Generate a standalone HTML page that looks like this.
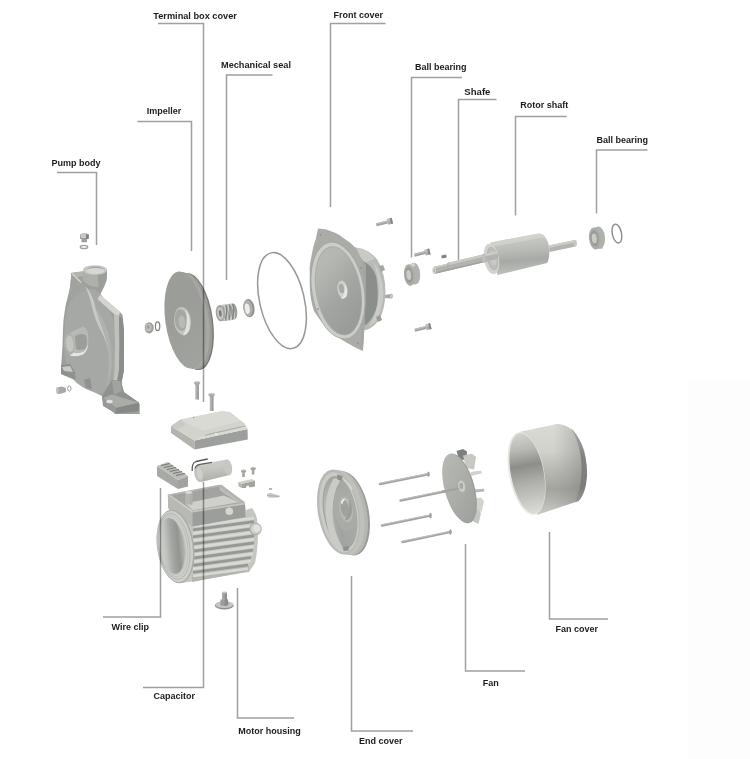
<!DOCTYPE html>
<html><head><meta charset="utf-8">
<style>
html,body{margin:0;padding:0;background:#fff;}
body{width:750px;height:759px;overflow:hidden;position:relative;font-family:"Liberation Sans",sans-serif;}
svg{position:absolute;left:0;top:0;}
.t{font-family:"Liberation Sans",sans-serif;font-weight:bold;font-size:9px;fill:#1c1c1c;}
#lbl{will-change:transform;}
.l{stroke:#a0a0a0;stroke-width:1.5;fill:none;mix-blend-mode:multiply;}
</style></head>
<body>
<svg width="750" height="759" viewBox="0 0 750 759">
<defs>
<linearGradient id="impg" x1="0" y1="0" x2="0.3" y2="1"><stop offset="0" stop-color="#9c9e99"/><stop offset="0.5" stop-color="#9b9d98"/><stop offset="1" stop-color="#a0a29d"/></linearGradient>
<linearGradient id="fcg" x1="0" y1="0" x2="0.4" y2="1"><stop offset="0" stop-color="#babcb7"/><stop offset="0.3" stop-color="#b4b6b1"/><stop offset="0.65" stop-color="#a2a5a1"/><stop offset="1" stop-color="#999c98"/></linearGradient>
<linearGradient id="rotg" x1="0" y1="0" x2="0.12" y2="1"><stop offset="0" stop-color="#d0d2cc"/><stop offset="0.45" stop-color="#b9bbb6"/><stop offset="0.7" stop-color="#a6a9a5"/><stop offset="1" stop-color="#bec0bb"/></linearGradient>
<linearGradient id="capg" x1="0" y1="0" x2="0.15" y2="1"><stop offset="0" stop-color="#cdcec8"/><stop offset="0.4" stop-color="#c7c8c2"/><stop offset="1" stop-color="#aeafa9"/></linearGradient>
<linearGradient id="mfg" x1="0" y1="0" x2="1" y2="0.1"><stop offset="0" stop-color="#d4d6d0"/><stop offset="0.3" stop-color="#c0c2bd"/><stop offset="0.55" stop-color="#a2a5a1"/><stop offset="0.8" stop-color="#929591"/><stop offset="1" stop-color="#aeb0ab"/></linearGradient>
<linearGradient id="ecg" x1="0" y1="0" x2="1" y2="0"><stop offset="0" stop-color="#b9bbb6"/><stop offset="0.4" stop-color="#a0a39f"/><stop offset="1" stop-color="#a9aca7"/></linearGradient>
<linearGradient id="fang" x1="0" y1="0" x2="0.5" y2="1"><stop offset="0" stop-color="#b9bbb6"/><stop offset="0.5" stop-color="#aeb0ab"/><stop offset="1" stop-color="#a0a39f"/></linearGradient>
<linearGradient id="fcvg" x1="0" y1="0" x2="0" y2="1"><stop offset="0" stop-color="#dadbd5"/><stop offset="0.3" stop-color="#d0d1cb"/><stop offset="0.55" stop-color="#b4b5af"/><stop offset="0.72" stop-color="#a3a49e"/><stop offset="0.88" stop-color="#b8b9b3"/><stop offset="1" stop-color="#cbccc6"/></linearGradient>
<linearGradient id="fcedge" x1="0" y1="0" x2="0" y2="1"><stop offset="0" stop-color="#a9aca7"/><stop offset="0.4" stop-color="#7f827e"/><stop offset="0.8" stop-color="#7a7d79"/><stop offset="1" stop-color="#959894"/></linearGradient>
<linearGradient id="fcvg2" x1="0" y1="0" x2="0" y2="1"><stop offset="0" stop-color="#d3d4ce"/><stop offset="0.5" stop-color="#a3a49e"/><stop offset="0.75" stop-color="#b4b5af"/><stop offset="1" stop-color="#c8c9c3"/></linearGradient>
<linearGradient id="fcin" x1="0" y1="0" x2="0" y2="1"><stop offset="0" stop-color="#d2d3cd"/><stop offset="0.2" stop-color="#b8b9b3"/><stop offset="0.4" stop-color="#8d8e89"/><stop offset="0.6" stop-color="#acada8"/><stop offset="1" stop-color="#dcddd7"/></linearGradient>
<linearGradient id="fcshade" x1="0" y1="0" x2="1" y2="0"><stop offset="0" stop-color="#888" stop-opacity="0"/><stop offset="0.5" stop-color="#888" stop-opacity="0"/><stop offset="1" stop-color="#6f706b" stop-opacity="0.45"/></linearGradient>
</defs>
<rect x="688" y="379" width="62" height="380" fill="#fdfdfd"/>
<!-- PARTS -->
<g id="parts">
<!-- pump body -->
<g id="pump">
<!-- plug -->
<path d="M80 234.5 Q84.5 231.5 89 234.5 L88.5 239 L87 239 L87 242.3 L81.5 242.3 L81.5 239 L80 239Z" fill="#9c9f9b"/>
<path d="M80.5 234.5 Q84.5 232 88.5 234.5 L88 238 L81 238Z" fill="#c9cac5"/>
<path d="M86 234 L89 235 L88.5 239 L86 239Z" fill="#7f827e"/>
<ellipse cx="84" cy="247" rx="3.7" ry="1.7" fill="#eeeeec" stroke="#a0a39f" stroke-width="1.3"/>
<!-- silhouette -->
<path d="M83 270 L83 276 L77 272 L71.5 273 L70.5 285 L69 292 L65.5 306 L63.5 320 L63 330 L62.5 345 L61.5 362 L61 366 L61 374 L75.5 380 L85 387 L96 393 L102 396 L103 402 L115 414 L139.7 414 L139.7 404 L124 393 L121 386 L124 370 L124 340 L123.5 325 L122.5 315 L120 312 L100 295 L105 285 L107 276 L107 270 Z" fill="#9c9f9b"/>
<!-- main volute face -->
<path d="M70 300 Q80 285 96 290 Q104 296 110 310 Q118 330 119 355 Q119 380 112 390 Q104 395 96 393 Q80 388 72 378 Q64 365 64 340 Q64 315 70 300Z" fill="#a5a8a4"/>
<!-- volute edge highlight -->
<path d="M85 286 Q92 292 95 306 Q99 320 103 330 Q107 340 108 352 Q106 340 101 331 Q95 320 92 307 Q89 294 85 286Z" fill="#c7c9c4"/>
<path d="M95 306 Q103 318 108 332 Q112 346 112 362 Q111 378 106 388 Q110 370 108 352 Q106 336 101 325 Q97 314 95 306Z" fill="#afb2ad"/>
<!-- left upper -->
<path d="M71.5 273 L83 276 L85 290 Q75 295 68 305 L69.5 292Z" fill="#a0a39f"/>
<!-- right flange -->
<path d="M114 314 L119 316 L119.5 345 L119 370 L116.5 384 L113 387 L114.5 370 L115 345Z" fill="#bfc1bc"/>
<path d="M119 316 L122.5 318 L124 330 L124 370 L121 385 L116.5 386 L119 370 L119.5 345Z" fill="#8b8e8a"/>
<path d="M100 295 L120 312 L119 316 L114 314 L97.5 299Z" fill="#d3d5d0"/>
<!-- outlet pipe -->
<path d="M83 270 L83 280 Q88 287 96 287 Q104 286 106 280 L107 270Z" fill="#aeb0ab"/>
<path d="M97 272 L107 270 L106.5 281 Q104 286 99 287Z" fill="#9b9e9a"/>
<ellipse cx="95" cy="270" rx="12" ry="4.8" fill="#c5c7c2"/>
<ellipse cx="95.3" cy="270.3" rx="9.2" ry="3.7" fill="#d6d8d3"/>
<path d="M86.1 270.3 A9.2 3.7 0 0 1 104.5 270.3 A9.2 2.2 0 0 0 86.1 270.3Z" fill="#a3a6a2"/>
<!-- left bracket -->
<path d="M71.5 273 L83 271 L83 276 L77 277 Q74 276 72 276Z" fill="#b3b5b0"/>
<path d="M72.5 273.8 L81 282.5" stroke="#d3d5d0" stroke-width="1.3"/>
<!-- inlet boss -->
<path d="M69.4 333 L83 326.5 Q88.5 329 88.5 339 Q88 350 83 353.5 L69.4 354.4Z" fill="#b7b9b4"/>
<path d="M75 336 Q81 332.5 86 335.5 Q88 342 85.5 348.5 Q80 351 76 349Z" fill="#9a9d99"/>
<path d="M70 352 Q78 354.5 84 351.5 Q87 349 88.3 343 Q88 351 83 354.5 Q76 357.5 70 355.5Z" fill="#e6e7e3"/>
<ellipse cx="69.4" cy="343.7" rx="5.5" ry="10.8" transform="rotate(-6 69.4 343.7)" fill="#aeb0ab"/>
<ellipse cx="69.8" cy="343.7" rx="3.8" ry="8.2" transform="rotate(-6 69.8 343.7)" fill="#c3c5c0"/>
<!-- feet -->
<path d="M61 365 L70 364 L75 372 L75.5 380 L61 374Z" fill="#8e918d"/>
<path d="M62 367 L70 366 L73 372 L64 371Z" fill="#c8cac5"/>
<path d="M102 396 L112 380 L121 381 L124 392 L139 402.5 L139 411 L116 413.5 L103 406Z" fill="#8f928e"/>
<path d="M103.2 398 L112 394.5 L139 402.8 L116 408Z" fill="#a9aca7"/>
<path d="M116 408 L139 402.8 L139 411 L116 413.5Z" fill="#858884"/>
<path d="M103.2 398 L116 408 L116 413.5 L103.2 405.6Z" fill="#969995"/>
<ellipse cx="109.5" cy="401.5" rx="3.2" ry="1.8" fill="#e2e3df"/>
<path d="M112 381 L120 381 L122 391 L114 395Z" fill="#a0a39f"/>
<path d="M84 380 L90 378 L92 389 L86 388Z" fill="#8f928e"/>
<!-- small bolt -->
<path d="M56.5 387.5 L62 386.5 L66 388 L66 392 L62 393.5 L57 394 Z" fill="#a9aaa5"/>
<ellipse cx="57.3" cy="390.5" rx="1.3" ry="3" fill="#c5c6c1"/>
<ellipse cx="69.3" cy="388.5" rx="1.7" ry="2.6" fill="none" stroke="#9c9d98" stroke-width="1"/>
</g>
</g>
<!-- impeller group -->
<g id="impeller">
<!-- nut & washer -->
<ellipse cx="149.2" cy="327.8" rx="4.5" ry="5.6" fill="#9c9f9b"/>
<ellipse cx="148.6" cy="327.5" rx="3" ry="4" fill="#bfc1bc"/>
<ellipse cx="148.3" cy="327" rx="1.3" ry="2" fill="#9fa09b"/>
<ellipse cx="157.6" cy="326.2" rx="2.2" ry="4.4" fill="none" stroke="#7d807c" stroke-width="1.2"/>
<!-- disc rim (back) -->
<ellipse cx="193" cy="321.5" rx="20" ry="49" transform="rotate(-8 193 321.5)" fill="#787975"/>
<ellipse cx="192" cy="321.2" rx="19.6" ry="48.6" transform="rotate(-8 192 321.2)" fill="#9a9b98"/>
<ellipse cx="189" cy="320.7" rx="19.8" ry="48.8" transform="rotate(-8 189 320.7)" fill="#a7a8a4"/>
<!-- face -->
<ellipse cx="185.3" cy="320" rx="20" ry="49" transform="rotate(-8 185.3 320)" fill="url(#impg)"/>
<!-- hub -->
<ellipse cx="182.5" cy="321" rx="8.5" ry="14" transform="rotate(-6 182.5 321)" fill="#c3c5c0"/>
<ellipse cx="181" cy="320" rx="6.3" ry="11" transform="rotate(-6 181 320)" fill="#a4a7a3"/>
<ellipse cx="182" cy="322" rx="3.3" ry="6.5" transform="rotate(-6 182 322)" fill="#b7bab5"/>
<path d="M186 309 Q191 317 189.5 329 Q187.5 335 183 335.5 Q188.5 326 186 309Z" fill="#e0e2dd"/>
<!-- mechanical seal spring -->
<path d="M220 305.3 L233 303.4 L234.5 319.4 L220 321.3Z" fill="#a3a6a2"/>
<ellipse cx="233.8" cy="311.4" rx="3.4" ry="8" transform="rotate(-6 233.8 311.4)" fill="#9a9d99"/>
<g fill="none">
<ellipse cx="224.5" cy="312.8" rx="2.2" ry="7.9" transform="rotate(-12 224.5 312.8)" stroke="#cfd1cc" stroke-width="1.3"/>
<ellipse cx="228" cy="312.3" rx="2.2" ry="7.9" transform="rotate(-12 228 312.3)" stroke="#cfd1cc" stroke-width="1.3"/>
<ellipse cx="231.5" cy="311.8" rx="2.2" ry="7.9" transform="rotate(-12 231.5 311.8)" stroke="#cfd1cc" stroke-width="1.3"/>
<path d="M225.8 305 Q227.5 312 225.5 320.6 M229.3 304.5 Q231 311.5 229 320.1 M232.8 304 Q234.5 311 232.5 319.6" stroke="#7c7f7b" stroke-width="1.1"/>
</g>
<ellipse cx="220" cy="313.3" rx="4.2" ry="8" transform="rotate(-6 220 313.3)" fill="#9fa29e"/>
<ellipse cx="220.3" cy="313.3" rx="3.1" ry="6.4" transform="rotate(-6 220.3 313.3)" fill="#c6c8c3"/>
<ellipse cx="220.3" cy="313.3" rx="1.4" ry="3.4" transform="rotate(-6 220.3 313.3)" fill="#7a7d79"/>
<!-- seal ring -->
<ellipse cx="249" cy="308.2" rx="5.5" ry="9.2" transform="rotate(-8 249 308.2)" fill="#8c8f8b"/>
<ellipse cx="248" cy="308.2" rx="4.6" ry="8.6" transform="rotate(-8 248 308.2)" fill="#abaea9"/>
<ellipse cx="247.3" cy="308.7" rx="2.4" ry="5.3" transform="rotate(-8 247.3 308.7)" fill="#eeeeeb"/>
<!-- O-ring -->
<ellipse cx="282" cy="300.6" rx="22.3" ry="49" transform="rotate(-13 282 300.6)" fill="none" stroke="#959894" stroke-width="1.5"/>
</g>

<!-- front cover -->
<g id="frontcover">
<!-- back cylinder -->
<path d="M354 247 L363 249 Q372 252.5 377.5 260 Q385.5 274 385.5 292 Q385 310 379 320 Q373 328 366 330 L360 330Z" fill="#b8bab5"/>
<path d="M364 262 Q372 265 376 276 Q379 292 377 306 Q374 318 366 325 L364 325Z" fill="#8b8f8b"/>
<path d="M373 262 Q382 273 383.5 292 Q383 310 375 322 Q372 325 369 326 Q378 312 379 292 Q378.5 274 373 262Z" fill="#c9cbc6"/>
<path d="M357 248 L364 249.8 Q371 253.5 375 259 L366 262 L360 259Z" fill="#c8cac5"/>
<!-- tabs/bolts on rim -->
<path d="M379 266 L383 265 L385 270 L381 272Z" fill="#a4a59f"/>
<path d="M385 295 L391.5 293.8 L393 296 L391.5 298.5 L385 298Z" fill="#a8a9a4"/>
<ellipse cx="391.5" cy="296.2" rx="1.4" ry="2.6" fill="#c6c7c2"/>
<path d="M376 317 L380 315 L382 320 L378 322Z" fill="#9c9d98"/>
<!-- flange -->
<path d="M318 228.4 L325.5 229.3 C333 232 339 234 342.3 237.3 C348 241 352 244 354.5 247 C357.5 251 359.5 255 361 258 L365.7 265 L365.5 300 L364.8 322 L362.9 350.8 L357.3 348.5 C352 346 347 343 342.3 340.1 C337 336.5 332 333 328.3 329.8 C324 325 320 320 317.1 315.8 L313.9 311.1 C311 302 310 294 309.7 285 L309.7 266.7 C310.5 261 311.5 256 312.5 250.8 C313.5 246 314.5 242.5 315.7 239.6 Z" fill="#aaaca7"/>
<!-- flange right side thickness -->
<path d="M361 258 L365.7 265 L365.5 300 L364.8 322 L362.9 350.8 L360.5 349.8 L361.7 322 L362.2 300 L362 265Z" fill="#a5a7a2"/>
<!-- raised ring -->
<ellipse cx="338" cy="290.5" rx="26.4" ry="49.3" transform="rotate(-10 338 290.5)" fill="#a3a5a0"/>
<ellipse cx="338" cy="290.5" rx="25.6" ry="48.5" transform="rotate(-10 338 290.5)" fill="#cbcdc8"/>
<ellipse cx="338.4" cy="290.8" rx="22.7" ry="45" transform="rotate(-10 338.4 290.8)" fill="#a9aca7"/>
<ellipse cx="338.6" cy="291" rx="21.9" ry="44.2" transform="rotate(-10 338.6 291)" fill="url(#fcg)"/>
<!-- hub -->
<ellipse cx="342.5" cy="289.5" rx="5" ry="9" transform="rotate(-10 342.5 289.5)" fill="#cfd0ca"/>
<ellipse cx="341.5" cy="288.5" rx="2.6" ry="4.8" transform="rotate(-10 341.5 288.5)" fill="#a9aaa5"/>
<path d="M344.5 284 Q349 290 346 297 Q343.5 299.5 341 298.5 Q346 294 344.5 284Z" fill="#e6e7e2"/>
<!-- holes -->
<circle cx="320.5" cy="235" r="0.9" fill="#8f908b"/>
<circle cx="361" cy="268" r="0.9" fill="#8f908b"/>
<circle cx="358" cy="343" r="0.9" fill="#8f908b"/>
<circle cx="318" cy="309" r="0.9" fill="#8f908b"/>
</g>
<!-- bolts near front cover -->
<g id="fcbolts">
<path d="M376.7 226.3 L387.9 223.4 L387.1 220.4 L375.9 223.3Z" fill="#a0a39f"/><path d="M376.1 224.1 L387.3 221.2" stroke="#c3c5c0" stroke-width="0.9"/><path d="M388.2 224.7 L393.1 223.5 L391.6 217.8 L386.8 219.1Z" fill="#aaada8"/><path d="M391.1 224.0 L393.1 223.5 L391.6 217.8 L389.7 218.3Z" fill="#858884"/><path d="M387.3 219.0 L389.5 218.4 L390.1 220.7 L387.9 221.3Z" fill="#c6c8c3"/>
<path d="M414.7 256.8 L425.4 254.1 L424.6 251.1 L413.9 253.8Z" fill="#a0a39f"/><path d="M414.1 254.6 L424.8 251.9" stroke="#c3c5c0" stroke-width="0.9"/><path d="M425.7 255.4 L430.6 254.2 L429.1 248.6 L424.3 249.8Z" fill="#aaada8"/><path d="M428.6 254.7 L430.6 254.2 L429.1 248.6 L427.2 249.1Z" fill="#858884"/><path d="M424.8 249.7 L427.0 249.1 L427.6 251.4 L425.4 252.0Z" fill="#c6c8c3"/>
<path d="M415.2 331.8 L426.4 328.9 L425.6 325.9 L414.4 328.8Z" fill="#a0a39f"/><path d="M414.6 329.6 L425.8 326.7" stroke="#c3c5c0" stroke-width="0.9"/><path d="M426.7 330.2 L431.6 329.0 L430.1 323.3 L425.3 324.6Z" fill="#aaada8"/><path d="M429.6 329.5 L431.6 329.0 L430.1 323.3 L428.2 323.8Z" fill="#858884"/><path d="M425.8 324.5 L428.0 323.9 L428.6 326.2 L426.4 326.8Z" fill="#c6c8c3"/>
<rect x="441.5" y="255" width="5" height="3" fill="#7f827e" transform="rotate(-10 444 256.5)"/>
</g>

<!-- rotor assembly -->
<g id="rotor">
<!-- left ball bearing -->
<path d="M409.3 264.3 L414.8 262.8 A5.3 10.7 -6 0 1 414.8 284.2 L409.3 285.7Z" fill="#bfc1bc"/>
<ellipse cx="414.6" cy="273.5" rx="5.3" ry="10.7" transform="rotate(-6 414.6 273.5)" fill="#b0b2ad"/>
<path d="M410 264.3 L415 263 L415 266 L410 267.5Z" fill="#d0d2cc"/>
<ellipse cx="409.3" cy="275" rx="5.3" ry="10.7" transform="rotate(-6 409.3 275)" fill="#aaaca7"/>
<ellipse cx="409" cy="275" rx="3.8" ry="7.8" transform="rotate(-6 409 275)" fill="#999b97"/>
<ellipse cx="408.7" cy="275" rx="2.4" ry="5" transform="rotate(-6 408.7 275)" fill="#c9cbc6"/>
<!-- shaft -->
<path d="M434 266.8 L448 263.6 L448 262.8 L483 254.5 L483 262.5 L448 270.8 L434 274Z" fill="#b2b3ae"/>
<path d="M434 266.8 L448 263.6 L448 262.8 L483 254.5 L483 257 L448 265.3 L434 268.5Z" fill="#c9cac5"/>
<path d="M434 272.5 L448 269.3 L483 261 L483 262.5 L448 270.8 L434 274Z" fill="#a1a29d"/>
<ellipse cx="434.2" cy="270.4" rx="1.8" ry="3.6" fill="#d6d7d2"/>
<ellipse cx="434.2" cy="270.4" rx="0.9" ry="1.8" fill="#b6b7b2"/>
<path d="M448 262.8 L448 270.8" stroke="#9fa09b" stroke-width="0.7"/>
<!-- rotor body -->
<path d="M490.5 242.5 L538.5 233.5 C545 233 549.5 242 549.3 252 C549 258 548.5 261 547 263 L497.5 275 Z" fill="url(#rotg)"/>
<path d="M490.5 242.5 L538.5 233.5 C541 233.3 543 234.5 545 237 L491.5 247Z" fill="#d5d6d0" opacity="0.7"/>
<!-- rotor front face -->
<ellipse cx="491.5" cy="259" rx="7.5" ry="15.5" transform="rotate(-10 491.5 259)" fill="#d2d3ce"/>
<ellipse cx="492.5" cy="258.5" rx="5.5" ry="12" transform="rotate(-10 492.5 258.5)" fill="#bbbcb7"/>
<ellipse cx="493" cy="258" rx="3.5" ry="7.5" transform="rotate(-10 493 258)" fill="#c9cac5"/>
<!-- shaft part passing through front face -->
<path d="M482 254.7 L498 251 L498 259 L482 262.7Z" fill="#b3b4af"/>
<path d="M482 254.7 L498 251 L498 253.5 L482 257.2Z" fill="#cbccc7"/>
<ellipse cx="484" cy="258.5" rx="1.8" ry="4.5" fill="#bdbeb9"/>
<!-- right shaft -->
<path d="M549 245.5 L575 240 L575.5 246.5 L549.5 252Z" fill="#b4b5b0"/>
<path d="M549 245.5 L575 240 L575.2 242.3 L549.2 247.8Z" fill="#cdcec9"/>
<ellipse cx="575.3" cy="243.2" rx="1.6" ry="3.3" fill="#c6c7c2"/>
<!-- right ball bearing -->
<path d="M594.8 227.4 L599 226.4 L603 248.5 L594.8 249.4Z" fill="#bfc1bc"/>
<ellipse cx="599.2" cy="237.5" rx="5.8" ry="11" transform="rotate(-6 599.2 237.5)" fill="#b0b2ad"/>
<ellipse cx="594.8" cy="238.4" rx="5.8" ry="11" transform="rotate(-6 594.8 238.4)" fill="#aaaca7"/>
<ellipse cx="594.5" cy="238.4" rx="4.1" ry="8" transform="rotate(-6 594.5 238.4)" fill="#999b97"/>
<ellipse cx="594.3" cy="238.4" rx="2.5" ry="5" transform="rotate(-6 594.3 238.4)" fill="#c9cbc6"/>
<!-- small o-ring -->
<ellipse cx="616.9" cy="233.6" rx="4.6" ry="9.6" transform="rotate(-12 616.9 233.6)" fill="none" stroke="#8a8b86" stroke-width="1.4"/>
</g>

<!-- lower assembly -->
<g id="lower">
<!-- screws above terminal box cover -->
<rect x="195.3" y="383" width="3.6" height="16.5" fill="#b3b4af"/>
<rect x="197.3" y="383" width="1.6" height="16.5" fill="#9c9d98"/>
<ellipse cx="197.1" cy="382.6" rx="3.3" ry="1.6" fill="#c9cac5"/>
<path d="M193.8 382.6 L200.4 382.6 L199 385 L195.2 385Z" fill="#a9aaa5"/>
<rect x="209.8" y="395" width="3.6" height="16" fill="#b3b4af"/>
<rect x="211.8" y="395" width="1.6" height="16" fill="#9c9d98"/>
<ellipse cx="211.6" cy="394.4" rx="3.3" ry="1.6" fill="#c9cac5"/>
<path d="M208.3 394.4 L214.9 394.4 L213.5 396.8 L209.7 396.8Z" fill="#a9aaa5"/>
<!-- terminal box cover -->
<path d="M171 426 L194.5 440.5 L194.5 449.5 L171 433Z" fill="#b3b4ae"/>
<path d="M194.5 440.5 L247.5 429 L247.8 439.5 L194.5 449.5Z" fill="#9c9f9b"/>
<path d="M171 426 L180.6 419.5 L221.4 411.3 L229.8 412 L244.5 423.5 L247.5 429 L194.5 440.5Z" fill="#d2d3cd"/>
<path d="M180.6 419.5 L221.4 411.3 L229.8 412 L240 421 L203 431 Z" fill="#d9dad4"/>
<path d="M199 437.5 L245.5 426.5 L247.5 429 L194.5 440.5 Z" fill="#d9dad5"/>
<path d="M205 435.3 L245 426" stroke="#a9aca7" stroke-width="1.1"/>
<path d="M171 426 L180.6 419.5 L186 425 L176 430Z" fill="#c9cac4"/>
<circle cx="193.5" cy="417.5" r="0.8" fill="#9a9b96"/>
<circle cx="216" cy="434" r="1" fill="#f4f4f2"/>
<!-- wire clip -->
<path d="M157 466 L178 480 L178 489 L157 476Z" fill="#a6a9a4"/>
<path d="M178 480 L188 476 L188 486.5 L178 489Z" fill="#a0a39f"/>
<path d="M157 466 L168 462 L188 476 L178 480Z" fill="#bbbdb8"/>
<path d="M161 465.5 L170 463.5 M164 467.5 L173 465.5 M167 469.5 L176 467.5 M170 471.5 L179 469.5 M173 473.5 L182 471.5 M176 475.5 L185 473.5" stroke="#767975" stroke-width="1.1"/>
<!-- capacitor -->
<path d="M196.8 465 L226.3 459.5 L229.7 475.1 L201 482Z" fill="url(#capg)"/>
<ellipse cx="228" cy="467.3" rx="4" ry="8" transform="rotate(-10 228 467.3)" fill="#c6c7c1"/>
<ellipse cx="198.8" cy="473.5" rx="4.5" ry="8.6" transform="rotate(-10 198.8 473.5)" fill="#c0c1bb"/>
<ellipse cx="199.5" cy="473.3" rx="3" ry="6.5" transform="rotate(-10 199.5 473.3)" fill="#cfd0ca"/>
<path d="M192.2 471 Q191.5 463 196 461.5 L207.7 459" stroke="#555854" stroke-width="1.3" fill="none"/>
<path d="M195 468.5 Q196 465 200 464.3 L212 462.3" stroke="#5e615d" stroke-width="1.2" fill="none"/>
<!-- small screws & block -->
<rect x="242.2" y="471" width="2.6" height="6" fill="#a5a69f"/>
<ellipse cx="243.6" cy="470.8" rx="2.7" ry="1.5" fill="#c2c3bd"/>
<path d="M240.9 470.8 L246.3 470.8 L245.5 472.5 L241.7 472.5Z" fill="#a0a19b"/>
<rect x="251.8" y="468.5" width="2.6" height="6" fill="#a5a69f"/>
<ellipse cx="253.1" cy="468.2" rx="2.7" ry="1.5" fill="#c2c3bd"/>
<path d="M250.4 468.2 L255.8 468.2 L255 469.9 L251.2 469.9Z" fill="#a0a19b"/>
<path d="M238.4 482 L252 479 L255 480.8 L241.5 484Z" fill="#cfd0ca"/>
<path d="M238.4 482 L241.5 484 L241.5 488.1 L238.4 486Z" fill="#b4b5af"/>
<path d="M241.5 484 L255 480.8 L255 486.4 L249.5 487.4 L248.5 485.5 L246.5 486 L246 488 L241.5 488.1Z" fill="#a3a49e"/>
<ellipse cx="270.5" cy="489" rx="1.8" ry="0.9" fill="#aeafaa"/>
<path d="M267 494 Q268 492.5 270.5 493 L279.5 495.5 Q280 497 278 497.5 L270 497.8 Q267 497.5 267 494Z" fill="#c9cac5"/>
<path d="M267 495.5 L279.5 496.5" stroke="#a9aaa5" stroke-width="0.8"/>
<!-- motor housing -->
<!-- body silhouette -->
<path d="M167.6 494.4 L218.8 484.8 L221 485 L244.4 501.6 L246 510 L252 508 Q258 515 258 530 Q258 550 255 563 L249 572 L182 583 L176 583 Z" fill="#c4c6c0"/>
<path d="M192 575 L249 566 L249 571 L192 582Z" fill="#b3b4ae"/>
<!-- fins -->
<g stroke="#959894" stroke-width="2.7">
<path d="M193 529.8 L254 521.6"/>
<path d="M193 536.9 L254 528.7"/>
<path d="M193 544.0 L254 535.8"/>
<path d="M193 551.1 L254 542.9"/>
<path d="M193 558.2 L253 550.1"/>
<path d="M193 565.3 L251 557.5"/>
<path d="M193 572.4 L248 565.0"/>
</g>
<g stroke="#d8dad4" stroke-width="2.6">
<path d="M193 526.3 L254 518.1"/>
<path d="M193 533.4 L254 525.2"/>
<path d="M193 540.5 L254 532.3"/>
<path d="M193 547.6 L254 539.4"/>
<path d="M193 554.7 L254 546.5"/>
<path d="M193 561.8 L253 553.7"/>
<path d="M193 568.9 L251 561.1"/>
<path d="M193 576.0 L248 568.6"/>
</g>
<!-- terminal box -->
<path d="M168 494.7 L220 484.7 L222 485 L244.7 502.7 L245.5 517 L192.4 526.4 L168 508Z" fill="#b4b5af"/>
<path d="M171 495.6 L219.5 486.5 L241.5 502.6 L192.5 510.6Z" fill="#a1a4a0"/>
<path d="M185 503.5 L224 495.5 L238.5 502.3 L193 510.3Z" fill="#cfd0ca"/>
<path d="M219.5 486.5 L241.5 502.6 L238.5 502.8 L220 490.5Z" fill="#bebfb9"/>
<path d="M192.4 510.7 L244.7 502.7 L245.5 517 L192.4 526.4Z" fill="#9b9e9a"/>
<path d="M168 494.7 L192.4 510.7 L192.4 526.4 L168 508Z" fill="#b8b9b3"/>
<path d="M168 494.7 L171 495.6 L192.5 510.6 L192.4 512.5Z" fill="#d0d1cb"/>
<path d="M192.4 510.7 L244.7 502.7 L244.8 504.4 L192.4 512.4Z" fill="#c6c7c1"/>
<rect x="185.3" y="492.5" width="7" height="12" fill="#b3b5b0"/>
<rect x="189.8" y="492.5" width="2.5" height="12" fill="#aeafa9"/>
<ellipse cx="188.8" cy="492.5" rx="3.5" ry="1.4" fill="#d8d9d3"/>
<circle cx="229.3" cy="511.3" r="3.8" fill="#d6d7d1"/>
<!-- right knob -->
<circle cx="255.5" cy="529" r="6.2" fill="#a9aba6"/>
<circle cx="255.8" cy="528.8" r="5.3" fill="#cfd1cb"/>
<circle cx="256.6" cy="528.3" r="3.4" fill="#e2e3de"/>
<!-- front face disc -->
<ellipse cx="175.5" cy="546.5" rx="18.5" ry="37" transform="rotate(-8 175.5 546.5)" fill="#a9aca7"/>
<ellipse cx="175" cy="546.5" rx="17.5" ry="35.9" transform="rotate(-8 175 546.5)" fill="#cdcfca"/>
<ellipse cx="174" cy="546.3" rx="15.6" ry="33.2" transform="rotate(-8 174 546.3)" fill="none" stroke="#aeb1ac" stroke-width="0.8"/>
<ellipse cx="173.3" cy="546" rx="14.2" ry="31" transform="rotate(-8 173.3 546)" fill="none" stroke="#b9bbb6" stroke-width="0.8"/>
<ellipse cx="172.5" cy="546" rx="13" ry="29" transform="rotate(-8 172.5 546)" fill="#bfc1bc"/>
<ellipse cx="172" cy="546" rx="12.3" ry="28" transform="rotate(-8 172 546)" fill="url(#mfg)"/>
<!-- foot bolt -->
<ellipse cx="224.3" cy="605.5" rx="9.4" ry="4" fill="#8e918d"/>
<ellipse cx="224.3" cy="604.6" rx="9" ry="3.3" fill="#c4c6c1"/>
<path d="M220.5 599.5 L228 599.5 L228.3 605 Q224.3 606.8 220.3 605Z" fill="#9a9d99"/>
<path d="M224.5 599.5 L228 599.5 L228.3 605 L224.5 606Z" fill="#8a8d89"/>
<rect x="222" y="592.5" width="4.9" height="7.5" fill="#a4a7a3"/>
<rect x="224.6" y="592.5" width="2.3" height="7.5" fill="#8d908c"/>
<ellipse cx="224.45" cy="592.6" rx="2.45" ry="1" fill="#c3c5c0"/>
</g>

<!-- rear assembly -->
<g id="rear">
<!-- end cover -->
<ellipse cx="348.5" cy="513.5" rx="20.5" ry="42.5" transform="rotate(-10 348.5 513.5)" fill="#9a9c98"/>
<ellipse cx="346.5" cy="513" rx="20.5" ry="42.8" transform="rotate(-10 346.5 513)" fill="#b5b7b2"/>
<ellipse cx="343" cy="512.5" rx="20.5" ry="43" transform="rotate(-10 343 512.5)" fill="#bfc1bb"/>
<ellipse cx="338.5" cy="512" rx="20.5" ry="43" transform="rotate(-10 338.5 512)" fill="#b8bab5"/>
<ellipse cx="339" cy="512.3" rx="18.7" ry="40.5" transform="rotate(-10 339 512.3)" fill="#cacbc6"/>
<ellipse cx="340" cy="512.5" rx="16.5" ry="37" transform="rotate(-10 340 512.5)" fill="#a4a6a1"/>
<ellipse cx="340.5" cy="512.7" rx="15.5" ry="35.5" transform="rotate(-10 340.5 512.7)" fill="url(#ecg)"/>
<path d="M333 479 Q325 494 325.5 512 Q326.5 532 335 546 Q341 550 343 548 Q333 532 332.5 512 Q333 492 340 481 Q337 477 333 479Z" fill="#c9cbc6"/>
<path d="M337 474.5 L342.5 476 L342 480.5 L337.5 479.5Z" fill="#8d908c"/>
<path d="M343 547 L349 546 L348.5 550.5 L343.5 551Z" fill="#8d908c"/>
<path d="M344 480 Q350 484 352 490" stroke="#d3d5d0" stroke-width="1.6" fill="none"/>
<ellipse cx="344" cy="510" rx="10" ry="22" transform="rotate(-10 344 510)" fill="#a8aba6"/>
<ellipse cx="346" cy="509.5" rx="6.5" ry="13" transform="rotate(-10 346 509.5)" fill="#b7bab5"/>
<ellipse cx="344.8" cy="508.5" rx="4" ry="8.5" transform="rotate(-10 344.8 508.5)" fill="#9fa29e"/>
<path d="M341 503 Q342 498 345.5 499 Q343 500.5 342.2 504.5Z" fill="#eceeea"/>
<path d="M349 499 Q354 506 351 516 Q348 521 345 520 Q350 512 349 499Z" fill="#9c9e99"/>
<!-- long bolts -->
<g stroke="#a2a39e" stroke-width="2.3" stroke-linecap="round">
<path d="M380 484 L427 474.5"/>
<path d="M400.5 500.5 L461 488"/>
<path d="M382 525.5 L429 515.8"/>
<path d="M402.5 542 L449.5 532.2"/>
</g>
<g stroke="#c6c7c2" stroke-width="0.8">
<path d="M380 483.3 L427 473.8"/>
<path d="M400.5 499.8 L461 487.3"/>
<path d="M382 524.8 L429 515.1"/>
<path d="M402.5 541.3 L449.5 531.5"/>
</g>
<ellipse cx="428.5" cy="474.2" rx="1.3" ry="2.8" fill="#a0a19c"/>
<ellipse cx="430.5" cy="515.5" rx="1.3" ry="2.8" fill="#a0a19c"/>
<ellipse cx="450.5" cy="532" rx="1.3" ry="2.8" fill="#a0a19c"/>
<!-- fan blades -->
<path d="M456.5 451 L463 449 L467 451.5 L466.5 460 L459 459.5Z" fill="#7c7f7b"/>
<path d="M463 455.5 L472 453.8 L476 457 L474 469.5 L466 468Z" fill="#c6c8c3"/>
<path d="M470.5 472 L481 470.6 L482 473.2 L471 476Z" fill="#d0d2cc"/>
<path d="M473.5 489.4 L484 488.8 L484.3 491.6 L474 492.6Z" fill="#b9bbb6"/>
<path d="M474 498.5 L481 497.5 L484 501.5 L481.5 512 L474 509Z" fill="#d2d4ce"/>
<path d="M469.5 510 L477.5 508.8 L481 513 L478.5 524 L470 520Z" fill="#c4c6c1"/>
<!-- fan disc -->
<ellipse cx="460" cy="488.5" rx="14.6" ry="35.8" transform="rotate(-15 460 488.5)" fill="#9d9e98"/>
<ellipse cx="458.8" cy="488" rx="14.3" ry="35.5" transform="rotate(-15 458.8 488)" fill="url(#fang)"/>
<path d="M442 491.8 L459 488.3" stroke="#a2a39e" stroke-width="2.2"/>
<ellipse cx="461.7" cy="486.3" rx="3.5" ry="5.8" transform="rotate(-10 461.7 486.3)" fill="#cbccc6"/>
<ellipse cx="461.3" cy="486" rx="1.8" ry="3" fill="#a7a8a2"/>
<!-- fan cover -->
<path d="M520.3 431.7 L555.8 424.2 C566 422.5 578 432 584 450 C589 468 587 490 578.5 501 L537 515 Z" fill="url(#fcvg)"/>
<path d="M520.3 431.7 L555.8 424.2 C566 422.5 578 432 584 450 C589 468 587 490 578.5 501 L537 515 Z" fill="url(#fcshade)"/>
<path d="M570 427 C580 436 586 452 587 472 C587 487 583 497 578.5 501 L575 502 C579.5 492 582 480 581.5 465 C581 450 577 437 570 427Z" fill="url(#fcedge)"/>
<ellipse cx="526.6" cy="473.4" rx="17.6" ry="42" transform="rotate(-11 526.6 473.4)" fill="#e6e7e3"/>
<ellipse cx="527.3" cy="473.4" rx="16.4" ry="40.8" transform="rotate(-11 527.3 473.4)" fill="url(#fcin)"/>
</g>

<!-- LEADER LINES -->
<g class="l">
<path d="M158 23.5H203.5V402"/>
<path d="M385.5 23.5H330.5V207"/>
<path d="M272.5 75H226.5V280"/>
<path d="M462 77.5H411.5V257.5"/>
<path d="M496.5 99.5H458.5V260"/>
<path d="M566.5 116.5H515.5V215.5"/>
<path d="M647.5 150H596.5V213.5"/>
<path d="M137.5 121.5H191.5V251"/>
<path d="M57 172.5H96.5V245"/>
<path d="M160.5 488V617H103"/>
<path d="M203.5 482V687.5H143"/>
<path d="M237.5 588V718H294"/>
<path d="M351.5 576V731H413"/>
<path d="M465.5 544V671H525"/>
<path d="M549.5 532V619H608"/>
</g>
<!-- LABELS -->
<g class="t" id="lbl">
<text x="153.3" y="18.7" style="font-size:9.2px">Terminal box cover</text>
<text x="333.4" y="17.5">Front cover</text>
<text x="221" y="67.8" style="font-size:9.2px">Mechanical seal</text>
<text x="415" y="69.6">Ball bearing</text>
<text x="464.3" y="95.2" style="font-size:9.6px">Shafe</text>
<text x="520.3" y="108.0">Rotor shaft</text>
<text x="596.4" y="142.5">Ball bearing</text>
<text x="146.8" y="114.2">Impeller</text>
<text x="51.5" y="166.3">Pump body</text>
<text x="111.5" y="629.9">Wire clip</text>
<text x="153.5" y="698.9">Capacitor</text>
<text x="238.2" y="734">Motor housing</text>
<text x="359" y="743.7">End cover</text>
<text x="482.7" y="686.0">Fan</text>
<text x="555.4" y="631.9">Fan cover</text>
</g>
</svg>
</body></html>
